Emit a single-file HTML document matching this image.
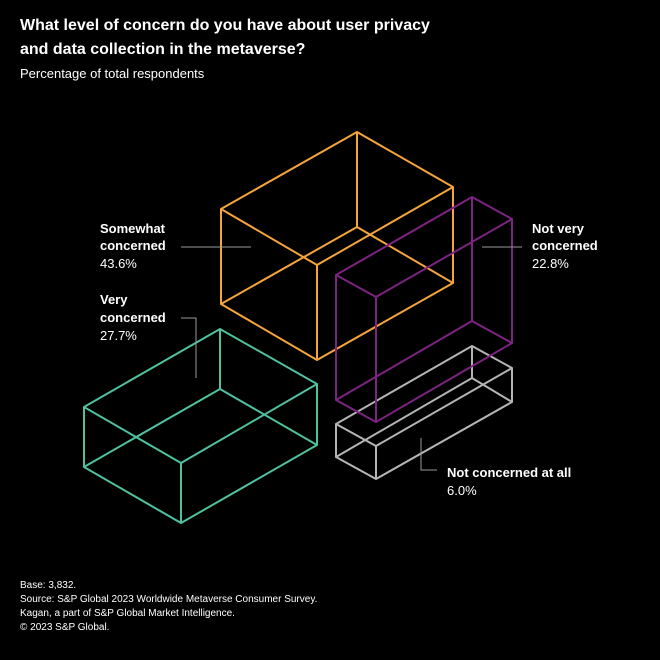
<!DOCTYPE html>
<html><head><meta charset="utf-8"><style>
html,body{margin:0;padding:0;background:#000;}
svg{display:block;}
text{font-family:"Liberation Sans",sans-serif;fill:#fff;}
.t{font-size:16px;font-weight:bold;}
.s{font-size:13px;}
.l{font-size:13px;font-weight:bold;}
.v{font-size:13px;}
.f{font-size:10px;}
</style></head><body>
<svg width="660" height="660" viewBox="0 0 660 660" xmlns="http://www.w3.org/2000/svg">
<rect width="660" height="660" fill="#000"/>
<text class="t" x="20" y="30">What level of concern do you have about user privacy</text>
<text class="t" x="20" y="54">and data collection in the metaverse?</text>
<text class="s" x="20" y="78">Percentage of total respondents</text>

<g fill="none" stroke-width="2" stroke-linejoin="round">
<!-- orange -->
<g stroke="#f5a53a">
<path d="M357,132 L221,209 L317,265 L453,187 Z M357,227 L221,304 L317,360 L453,283 Z M357,132V227 M221,209V304 M317,265V360 M453,187V283"/>
</g>
<!-- teal -->
<g stroke="#4fc1a1">
<path d="M220,329 L84,407 L181,463 L317,384 Z M220,389 L84,467 L181,523 L317,445 Z M220,329V389 M84,407V467 M181,463V523 M317,384V445"/>
</g>
<!-- gray -->
<g stroke="#b5b5b5">
<path d="M472,346 L336,424 L376,446 L512,368 Z M472,378 L336,457 L376,479 L512,402 Z M472,346V378 M336,424V457 M376,446V479 M512,368V402"/>
</g>
<!-- purple -->
<g stroke="#7d2382">
<path d="M472,197 L336,275 L376,297 L512,219 Z M472,321 L336,400 L376,422 L512,343 Z M472,197V321 M336,275V400 M376,297V422 M512,219V343"/>
</g>
</g>

<g stroke="#9a9a9a" stroke-width="1" fill="none">
<path d="M181,247H251"/>
<path d="M482,247H522"/>
<path d="M181,318H196V378"/>
<path d="M421,438V470H437"/>
</g>

<text class="l" x="100" y="233">Somewhat</text>
<text class="l" x="100" y="250">concerned</text>
<text class="v" x="100" y="268">43.6%</text>

<text class="l" x="532" y="233">Not very</text>
<text class="l" x="532" y="250">concerned</text>
<text class="v" x="532" y="268">22.8%</text>

<text class="l" x="100" y="304">Very</text>
<text class="l" x="100" y="322">concerned</text>
<text class="v" x="100" y="340">27.7%</text>

<text class="l" x="447" y="477">Not concerned at all</text>
<text class="v" x="447" y="495">6.0%</text>

<text class="f" x="20" y="588">Base: 3,832.</text>
<text class="f" x="20" y="602">Source: S&amp;P Global 2023 Worldwide Metaverse Consumer Survey.</text>
<text class="f" x="20" y="616">Kagan, a part of S&amp;P Global Market Intelligence.</text>
<text class="f" x="20" y="630">© 2023 S&amp;P Global.</text>
</svg>
</body></html>
